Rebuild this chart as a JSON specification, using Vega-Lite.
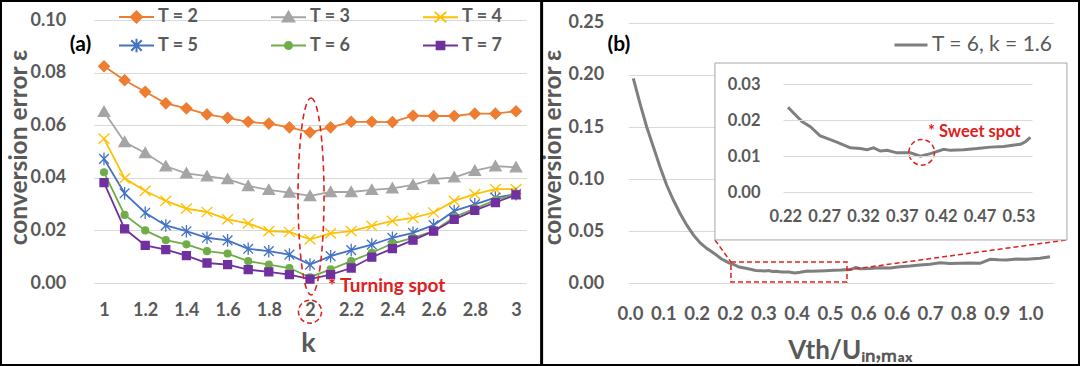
{
  "$schema": "https://vega.github.io/schema/vega-lite/v6.json",
  "width": 1080,
  "height": 366,
  "padding": 0,
  "autosize": {"type": "none"},
  "background": "white",
  "config": {
    "view": {"stroke": "#000000", "strokeWidth": 4},
    "font": "Lato",
    "axis": {"labelFont": "Lato", "labelFontWeight": "bold", "labelColor": "#595959", "titleFont": "Lato", "titleFontWeight": "bold", "titleColor": "#595959", "domain": false, "ticks": false, "gridColor": "#d9d9d9", "gridWidth": 1, "labelOverlap": false, "labelFlush": false, "labelBound": false}
  },
  "datasets": {
    "ka": [
      {"T": "T = 2", "k": 1.0, "e": 0.0824}, {"T": "T = 2", "k": 1.1, "e": 0.0771}, {"T": "T = 2", "k": 1.2, "e": 0.0727}, {"T": "T = 2", "k": 1.3, "e": 0.0683}, {"T": "T = 2", "k": 1.4, "e": 0.0664}, {"T": "T = 2", "k": 1.5, "e": 0.0641}, {"T": "T = 2", "k": 1.6, "e": 0.0628}, {"T": "T = 2", "k": 1.7, "e": 0.0613}, {"T": "T = 2", "k": 1.8, "e": 0.0606}, {"T": "T = 2", "k": 1.9, "e": 0.0592}, {"T": "T = 2", "k": 2.0, "e": 0.0573}, {"T": "T = 2", "k": 2.1, "e": 0.0592}, {"T": "T = 2", "k": 2.2, "e": 0.0613}, {"T": "T = 2", "k": 2.3, "e": 0.0613}, {"T": "T = 2", "k": 2.4, "e": 0.0612}, {"T": "T = 2", "k": 2.5, "e": 0.0636}, {"T": "T = 2", "k": 2.6, "e": 0.0635}, {"T": "T = 2", "k": 2.7, "e": 0.0635}, {"T": "T = 2", "k": 2.8, "e": 0.0644}, {"T": "T = 2", "k": 2.9, "e": 0.0644}, {"T": "T = 2", "k": 3.0, "e": 0.0653},
      {"T": "T = 3", "k": 1.0, "e": 0.0651}, {"T": "T = 3", "k": 1.1, "e": 0.0536}, {"T": "T = 3", "k": 1.2, "e": 0.0494}, {"T": "T = 3", "k": 1.3, "e": 0.0444}, {"T": "T = 3", "k": 1.4, "e": 0.0417}, {"T": "T = 3", "k": 1.5, "e": 0.0406}, {"T": "T = 3", "k": 1.6, "e": 0.0395}, {"T": "T = 3", "k": 1.7, "e": 0.0369}, {"T": "T = 3", "k": 1.8, "e": 0.0354}, {"T": "T = 3", "k": 1.9, "e": 0.0344}, {"T": "T = 3", "k": 2.0, "e": 0.0331}, {"T": "T = 3", "k": 2.1, "e": 0.0346}, {"T": "T = 3", "k": 2.2, "e": 0.0346}, {"T": "T = 3", "k": 2.3, "e": 0.0354}, {"T": "T = 3", "k": 2.4, "e": 0.0360}, {"T": "T = 3", "k": 2.5, "e": 0.0373}, {"T": "T = 3", "k": 2.6, "e": 0.0395}, {"T": "T = 3", "k": 2.7, "e": 0.0402}, {"T": "T = 3", "k": 2.8, "e": 0.0427}, {"T": "T = 3", "k": 2.9, "e": 0.0444}, {"T": "T = 3", "k": 3.0, "e": 0.0440},
      {"T": "T = 4", "k": 1.0, "e": 0.0549}, {"T": "T = 4", "k": 1.1, "e": 0.0398}, {"T": "T = 4", "k": 1.2, "e": 0.0350}, {"T": "T = 4", "k": 1.3, "e": 0.0312}, {"T": "T = 4", "k": 1.4, "e": 0.0283}, {"T": "T = 4", "k": 1.5, "e": 0.0270}, {"T": "T = 4", "k": 1.6, "e": 0.0242}, {"T": "T = 4", "k": 1.7, "e": 0.0227}, {"T": "T = 4", "k": 1.8, "e": 0.0197}, {"T": "T = 4", "k": 1.9, "e": 0.0194}, {"T": "T = 4", "k": 2.0, "e": 0.0166}, {"T": "T = 4", "k": 2.1, "e": 0.0189}, {"T": "T = 4", "k": 2.2, "e": 0.0197}, {"T": "T = 4", "k": 2.3, "e": 0.0217}, {"T": "T = 4", "k": 2.4, "e": 0.0236}, {"T": "T = 4", "k": 2.5, "e": 0.0248}, {"T": "T = 4", "k": 2.6, "e": 0.0268}, {"T": "T = 4", "k": 2.7, "e": 0.0312}, {"T": "T = 4", "k": 2.8, "e": 0.0338}, {"T": "T = 4", "k": 2.9, "e": 0.0357}, {"T": "T = 4", "k": 3.0, "e": 0.0357},
      {"T": "T = 5", "k": 1.0, "e": 0.0472}, {"T": "T = 5", "k": 1.1, "e": 0.0341}, {"T": "T = 5", "k": 1.2, "e": 0.0267}, {"T": "T = 5", "k": 1.3, "e": 0.0219}, {"T": "T = 5", "k": 1.4, "e": 0.0197}, {"T": "T = 5", "k": 1.5, "e": 0.0172}, {"T": "T = 5", "k": 1.6, "e": 0.0162}, {"T": "T = 5", "k": 1.7, "e": 0.0130}, {"T": "T = 5", "k": 1.8, "e": 0.0121}, {"T": "T = 5", "k": 1.9, "e": 0.0108}, {"T": "T = 5", "k": 2.0, "e": 0.0070}, {"T": "T = 5", "k": 2.1, "e": 0.0102}, {"T": "T = 5", "k": 2.2, "e": 0.0125}, {"T": "T = 5", "k": 2.3, "e": 0.0146}, {"T": "T = 5", "k": 2.4, "e": 0.0172}, {"T": "T = 5", "k": 2.5, "e": 0.0191}, {"T": "T = 5", "k": 2.6, "e": 0.0220}, {"T": "T = 5", "k": 2.7, "e": 0.0274}, {"T": "T = 5", "k": 2.8, "e": 0.0299}, {"T": "T = 5", "k": 2.9, "e": 0.0325}, {"T": "T = 5", "k": 3.0, "e": 0.0338},
      {"T": "T = 6", "k": 1.0, "e": 0.0421}, {"T": "T = 6", "k": 1.1, "e": 0.0259}, {"T": "T = 6", "k": 1.2, "e": 0.0200}, {"T": "T = 6", "k": 1.3, "e": 0.0163}, {"T": "T = 6", "k": 1.4, "e": 0.0147}, {"T": "T = 6", "k": 1.5, "e": 0.0121}, {"T": "T = 6", "k": 1.6, "e": 0.0112}, {"T": "T = 6", "k": 1.7, "e": 0.0083}, {"T": "T = 6", "k": 1.8, "e": 0.0070}, {"T": "T = 6", "k": 1.9, "e": 0.0057}, {"T": "T = 6", "k": 2.0, "e": 0.0022}, {"T": "T = 6", "k": 2.1, "e": 0.0052}, {"T": "T = 6", "k": 2.2, "e": 0.0083}, {"T": "T = 6", "k": 2.3, "e": 0.0115}, {"T": "T = 6", "k": 2.4, "e": 0.0150}, {"T": "T = 6", "k": 2.5, "e": 0.0172}, {"T": "T = 6", "k": 2.6, "e": 0.0197}, {"T": "T = 6", "k": 2.7, "e": 0.0251}, {"T": "T = 6", "k": 2.8, "e": 0.0283}, {"T": "T = 6", "k": 2.9, "e": 0.0315}, {"T": "T = 6", "k": 3.0, "e": 0.0338},
      {"T": "T = 7", "k": 1.0, "e": 0.0382}, {"T": "T = 7", "k": 1.1, "e": 0.0206}, {"T": "T = 7", "k": 1.2, "e": 0.0143}, {"T": "T = 7", "k": 1.3, "e": 0.0127}, {"T": "T = 7", "k": 1.4, "e": 0.0104}, {"T": "T = 7", "k": 1.5, "e": 0.0076}, {"T": "T = 7", "k": 1.6, "e": 0.0070}, {"T": "T = 7", "k": 1.7, "e": 0.0051}, {"T": "T = 7", "k": 1.8, "e": 0.0042}, {"T": "T = 7", "k": 1.9, "e": 0.0032}, {"T": "T = 7", "k": 2.0, "e": 0.0015}, {"T": "T = 7", "k": 2.1, "e": 0.0032}, {"T": "T = 7", "k": 2.2, "e": 0.0057}, {"T": "T = 7", "k": 2.3, "e": 0.0098}, {"T": "T = 7", "k": 2.4, "e": 0.0131}, {"T": "T = 7", "k": 2.5, "e": 0.0163}, {"T": "T = 7", "k": 2.6, "e": 0.0197}, {"T": "T = 7", "k": 2.7, "e": 0.0242}, {"T": "T = 7", "k": 2.8, "e": 0.0276}, {"T": "T = 7", "k": 2.9, "e": 0.0306}, {"T": "T = 7", "k": 3.0, "e": 0.0335}
    ],
    "curve": [
      {"x": 0.008, "e": 0.1967}, {"x": 0.024, "e": 0.1727}, {"x": 0.040, "e": 0.1503}, {"x": 0.056, "e": 0.1311}, {"x": 0.072, "e": 0.1119}, {"x": 0.088, "e": 0.0943}, {"x": 0.104, "e": 0.0799}, {"x": 0.120, "e": 0.0672}, {"x": 0.136, "e": 0.0560}, {"x": 0.152, "e": 0.0464}, {"x": 0.168, "e": 0.0390}, {"x": 0.184, "e": 0.0336}, {"x": 0.204, "e": 0.0282},
      {"x": 0.2187, "e": 0.0236}, {"x": 0.2284, "e": 0.0215}, {"x": 0.2374, "e": 0.0196}, {"x": 0.2484, "e": 0.0182}, {"x": 0.2618, "e": 0.0156}, {"x": 0.2751, "e": 0.0146}, {"x": 0.2862, "e": 0.0137}, {"x": 0.3018, "e": 0.0123}, {"x": 0.3151, "e": 0.0121}, {"x": 0.3241, "e": 0.0118}, {"x": 0.3329, "e": 0.0123}, {"x": 0.3418, "e": 0.0114}, {"x": 0.3508, "e": 0.0116}, {"x": 0.3641, "e": 0.0109}, {"x": 0.3818, "e": 0.0109}, {"x": 0.3952, "e": 0.0100}, {"x": 0.4085, "e": 0.0107}, {"x": 0.4263, "e": 0.0119}, {"x": 0.4352, "e": 0.0116}, {"x": 0.4529, "e": 0.0118}, {"x": 0.4708, "e": 0.0121}, {"x": 0.4885, "e": 0.0125}, {"x": 0.5063, "e": 0.0127}, {"x": 0.5286, "e": 0.0133}, {"x": 0.5352, "e": 0.0140}, {"x": 0.5419, "e": 0.0152},
      {"x": 0.552, "e": 0.0140}, {"x": 0.576, "e": 0.0142}, {"x": 0.600, "e": 0.0150}, {"x": 0.624, "e": 0.0148}, {"x": 0.648, "e": 0.0159}, {"x": 0.672, "e": 0.0165}, {"x": 0.696, "e": 0.0176}, {"x": 0.720, "e": 0.0182}, {"x": 0.744, "e": 0.0198}, {"x": 0.768, "e": 0.0190}, {"x": 0.792, "e": 0.0192}, {"x": 0.816, "e": 0.0196}, {"x": 0.840, "e": 0.0192}, {"x": 0.864, "e": 0.0230}, {"x": 0.884, "e": 0.0226}, {"x": 0.904, "e": 0.0224}, {"x": 0.928, "e": 0.0232}, {"x": 0.952, "e": 0.0230}, {"x": 0.968, "e": 0.0236}, {"x": 0.984, "e": 0.0240}, {"x": 1.008, "e": 0.0255}
    ]
  },
  "layer": [
    {
      "data": {"name": "ka"},
      "encoding": {
        "x": {"field": "k", "type": "quantitative",
          "scale": {"domain": [0.95, 3.05], "range": [93.7, 526.3], "nice": false, "zero": false},
          "axis": {"orient": "bottom", "offset": -83, "values": [1, 1.2, 1.4, 1.6, 1.8, 2, 2.2, 2.4, 2.6, 2.8, 3], "format": ".2~f", "grid": false, "labelFontSize": 18, "labelPadding": 18, "title": "k", "titleFontSize": 27, "titleX": 308, "titleY": 60, "titleBaseline": "middle", "titleAlign": "center"}},
        "y": {"field": "e", "type": "quantitative",
          "scale": {"domain": [0, 0.1], "range": [283, 20], "nice": false, "zero": false},
          "axis": {"orient": "left", "offset": -93.7, "values": [0, 0.02, 0.04, 0.06, 0.08, 0.1], "format": ".2f", "grid": true, "labelFontSize": 18, "labelPadding": 28, "title": "conversion error ε", "titleFontSize": 24.5, "titleX": -74.7, "titleY": 147, "titleAngle": -90, "titleBaseline": "middle", "titleAlign": "center"}}
      },
      "layer": [
        {
          "mark": {"type": "line", "strokeWidth": 1.8},
          "encoding": {
            "color": {"field": "T", "type": "nominal", "scale": {"domain": ["T = 2", "T = 3", "T = 4", "T = 5", "T = 6", "T = 7"], "range": ["#ED7D31", "#A5A5A5", "#FFC000", "#4472C4", "#70AD47", "#7030A0"]}, "legend": null},
            "order": {"field": "k", "type": "quantitative"}
          }
        },
        {
          "mark": {"type": "point", "filled": true, "opacity": 1, "strokeWidth": 1.3, "size": 130},
          "encoding": {
            "fill": {"field": "T", "type": "nominal", "scale": {"domain": ["T = 2", "T = 3", "T = 4", "T = 5", "T = 6", "T = 7"], "range": ["#ED7D31", "#A5A5A5", "#FFC000", "#4472C4", "#70AD47", "#7030A0"]}, "legend": null},
            "stroke": {"field": "T", "type": "nominal", "scale": {"domain": ["T = 2", "T = 3", "T = 4", "T = 5", "T = 6", "T = 7"], "range": ["#ED7D31", "#A5A5A5", "#FFC000", "#4472C4", "#70AD47", "#7030A0"]}, "legend": null},
            "shape": {"field": "T", "type": "nominal", "scale": {"domain": ["T = 2", "T = 3", "T = 4", "T = 5", "T = 6", "T = 7"], "range": ["M0,-0.95L0.95,0L0,0.95L-0.95,0Z", "M0,-0.95L1,0.8L-1,0.8Z", "M-0.95,-0.9L0.95,0.9M-0.95,0.9L0.95,-0.9", "M-0.85,-0.85L0.85,0.85M-0.85,0.85L0.85,-0.85M0,-1.1L0,1.1", "M0.6,0A0.6,0.6,0,1,1,-0.6,0A0.6,0.6,0,1,1,0.6,0Z", "M-0.7,-0.7L0.7,-0.7L0.7,0.7L-0.7,0.7Z"]}, "legend": null}
          }
        },
        {
          "mark": {"type": "point", "filled": true, "opacity": 0, "strokeWidth": 2},
          "encoding": {
            "fill": {"field": "T", "type": "nominal", "scale": {"domain": ["T = 2", "T = 3", "T = 4", "T = 5", "T = 6", "T = 7"], "range": ["#ED7D31", "#A5A5A5", "#FFC000", "#4472C4", "#70AD47", "#7030A0"]},
              "legend": {"orient": "none", "legendX": 118, "legendY": -2, "columns": 3, "direction": "horizontal", "title": null, "padding": 0, "symbolSize": 1225, "symbolStrokeWidth": 2, "symbolOpacity": 1, "labelFont": "Lato", "labelFontSize": 18, "labelFontWeight": "bold", "labelColor": "#595959", "labelOffset": 3, "columnPadding": 68, "rowPadding": -12}},
            "stroke": {"field": "T", "type": "nominal", "scale": {"domain": ["T = 2", "T = 3", "T = 4", "T = 5", "T = 6", "T = 7"], "range": ["#ED7D31", "#A5A5A5", "#FFC000", "#4472C4", "#70AD47", "#7030A0"]},
              "legend": {"orient": "none", "legendX": 118, "legendY": -2, "columns": 3, "direction": "horizontal", "title": null, "padding": 0, "symbolSize": 1225, "symbolStrokeWidth": 2, "symbolOpacity": 1, "labelFont": "Lato", "labelFontSize": 18, "labelFontWeight": "bold", "labelColor": "#595959", "labelOffset": 3, "columnPadding": 68, "rowPadding": -12}},
            "shape": {"field": "T", "type": "nominal", "scale": {"domain": ["T = 2", "T = 3", "T = 4", "T = 5", "T = 6", "T = 7"], "range": ["M-1,0L1,0M0,-0.32L0.32,0L0,0.32L-0.32,0Z", "M-1,0L1,0M0,-0.32L0.33,0.24L-0.33,0.24Z", "M-1,0L1,0M-0.33,-0.3L0.33,0.3M-0.33,0.3L0.33,-0.3", "M-1,0L1,0M-0.3,-0.3L0.3,0.3M-0.3,0.3L0.3,-0.3M0,-0.38L0,0.38", "M-1,0L1,0M0.2,0A0.2,0.2,0,1,1,-0.2,0A0.2,0.2,0,1,1,0.2,0Z", "M-1,0L1,0M-0.22,-0.22L0.22,-0.22L0.22,0.22L-0.22,0.22Z"]},
              "legend": {"orient": "none", "legendX": 118, "legendY": -2, "columns": 3, "direction": "horizontal", "title": null, "padding": 0, "symbolSize": 1225, "symbolStrokeWidth": 2, "symbolOpacity": 1, "labelFont": "Lato", "labelFontSize": 18, "labelFontWeight": "bold", "labelColor": "#595959", "labelOffset": 3, "columnPadding": 68, "rowPadding": -12}}
          }
        },
        {
          "data": {"values": [{"k": 0.886, "e": 0.0905, "t": "(a)"}]},
          "mark": {"type": "text", "align": "center", "baseline": "middle", "font": "Lato", "fontWeight": "bold", "fontSize": 21, "color": "#000000"},
          "encoding": {"text": {"field": "t"}}
        },
        {
          "data": {"values": [{"k": 2.005, "e": 0.0329}]},
          "mark": {"type": "point", "shape": "M0,-1A0.132,1,0,1,1,0,1A0.132,1,0,1,1,0,-1Z", "size": 38809, "filled": false, "opacity": 1, "stroke": "#e0201c", "strokeWidth": 1.6, "strokeDash": [6, 4]}
        },
        {
          "data": {"values": [{"k": 2.0, "e": -0.0109}]},
          "mark": {"type": "point", "shape": "circle", "size": 531, "filled": false, "opacity": 1, "stroke": "#e0201c", "strokeWidth": 1.6, "strokeDash": [5, 3]}
        },
        {
          "data": {"values": [{"k": 2.0874, "e": -0.0011, "t": "*  Turning spot"}]},
          "mark": {"type": "text", "align": "left", "baseline": "middle", "font": "Lato", "fontWeight": "bold", "fontSize": 19, "color": "#e0201c"},
          "encoding": {"text": {"field": "t"}}
        }
      ],
      "resolve": {"scale": {"fill": "independent", "stroke": "independent", "shape": "independent"}, "legend": {"fill": "independent", "stroke": "independent", "shape": "independent"}}
    },
    {
      "encoding": {
        "x": {"field": "x", "type": "quantitative",
          "scale": {"domain": [-0.004, 1.016], "range": [628.3, 1053.4], "nice": false, "zero": false},
          "axis": {"orient": "bottom", "offset": -82.7, "values": [0, 0.08, 0.16, 0.24, 0.32, 0.4, 0.48, 0.56, 0.64, 0.72, 0.8, 0.88, 0.96], "format": ".1f", "grid": false, "labelFontSize": 18.5, "labelPadding": 21, "title": "Vth/Uᵢₙ,ₘₐₓ", "titleFontSize": 26, "titleX": 850, "titleY": 67, "titleBaseline": "middle", "titleAlign": "center"}},
        "y": {"field": "e", "type": "quantitative",
          "scale": {"domain": [0, 0.25], "range": [283.3, 22.8], "nice": false, "zero": false},
          "axis": {"orient": "left", "offset": -631.7, "values": [0, 0.05, 0.1, 0.15, 0.2, 0.25], "format": ".2f", "grid": true, "labelFontSize": 18, "labelPadding": 28, "title": "conversion error ε", "titleFontSize": 24.5, "titleX": -78.7, "titleY": 147, "titleAngle": -90, "titleBaseline": "middle", "titleAlign": "center"}}
      },
      "layer": [
        {
          "data": {"name": "curve"},
          "mark": {"type": "line", "strokeWidth": 3},
          "encoding": {
            "color": {"datum": "T = 6, k = 1.6", "type": "nominal", "scale": {"range": ["#7f7f7f"]},
              "legend": {"orient": "none", "legendX": 893, "legendY": 27, "title": null, "padding": 0, "symbolType": "stroke", "symbolSize": 1089, "symbolStrokeWidth": 3, "labelFont": "Lato", "labelFontSize": 21, "labelFontWeight": "normal", "labelColor": "#595959", "labelOffset": 3}}
          }
        },
        {
          "data": {"values": [{"x": 0.2423, "x2": 0.5207, "e": 0.0012, "e2": 0.0204}]},
          "mark": {"type": "rect", "filled": false, "stroke": "#e0201c", "strokeWidth": 1.5, "strokeDash": [5, 3]},
          "encoding": {"x2": {"field": "x2"}, "y2": {"field": "e2"}}
        },
        {
          "data": {"values": [{"x": 0.2039, "e": 0.0416, "x2": 0.2423, "e2": 0.0204}, {"x": 0.5207, "e": 0.0128, "x2": 1.0486, "e2": 0.0416}]},
          "mark": {"type": "rule", "stroke": "#e0201c", "strokeWidth": 1.5, "strokeDash": [5, 3]},
          "encoding": {"x2": {"field": "x2"}, "y2": {"field": "e2"}}
        },
        {
          "data": {"values": [{"x": 0.2039, "x2": 1.0486, "e": 0.0416, "e2": 0.2114}]},
          "mark": {"type": "rect", "fill": "#ffffff", "stroke": "#a6a6a6", "strokeWidth": 1},
          "encoding": {"x2": {"field": "x2"}, "y2": {"field": "e2"}}
        },
        {
          "data": {"values": [{"x": -0.212, "e": 0.2719, "e2": -0.0794}]},
          "mark": {"type": "rule", "stroke": "#000000", "strokeWidth": 3},
          "encoding": {"y2": {"field": "e2"}}
        },
        {
          "data": {"values": [{"x": -0.0265, "e": 0.2287, "t": "(b)"}]},
          "mark": {"type": "text", "align": "center", "baseline": "middle", "font": "Lato", "fontWeight": "bold", "fontSize": 21, "color": "#000000"},
          "encoding": {"text": {"field": "t"}}
        }
      ]
    },
    {
      "data": {"name": "curve"},
      "encoding": {
        "x": {"field": "x", "type": "quantitative",
          "scale": {"domain": [0.212, 0.544], "range": [783, 1032], "nice": false, "zero": false},
          "axis": {"orient": "bottom", "offset": -174, "values": [0.2151, 0.2669, 0.3187, 0.3705, 0.4223, 0.4741, 0.5259], "format": ".2f", "grid": false, "labelFontSize": 16.5, "labelPadding": 16, "title": null, "zindex": 1}},
        "y": {"field": "e", "type": "quantitative",
          "scale": {"domain": [0, 0.03], "range": [192, 84.3], "nice": false, "zero": false},
          "axis": {"orient": "left", "offset": -783, "values": [0, 0.01, 0.02, 0.03], "format": ".2f", "grid": true, "labelFontSize": 16.5, "labelPadding": 23, "title": null, "zindex": 1}}
      },
      "layer": [
        {
          "transform": [{"filter": "datum.x >= 0.21 && datum.x <= 0.545"}],
          "mark": {"type": "line", "stroke": "#7f7f7f", "strokeWidth": 3}
        },
        {
          "data": {"values": [{"x": 0.3969, "e": 0.01106}]},
          "mark": {"type": "point", "shape": "circle", "size": 660, "filled": false, "opacity": 1, "stroke": "#e0201c", "strokeWidth": 1.5, "strokeDash": [5, 3]}
        },
        {
          "data": {"values": [{"x": 0.4053, "e": 0.0167, "t": "*  Sweet spot"}]},
          "mark": {"type": "text", "align": "left", "baseline": "middle", "font": "Lato", "fontWeight": "bold", "fontSize": 16.5, "color": "#e0201c"},
          "encoding": {"text": {"field": "t"}}
        }
      ]
    }
  ],
  "resolve": {
    "scale": {"x": "independent", "y": "independent", "color": "independent"},
    "axis": {"x": "independent", "y": "independent"},
    "legend": {"color": "independent"}
  }
}
